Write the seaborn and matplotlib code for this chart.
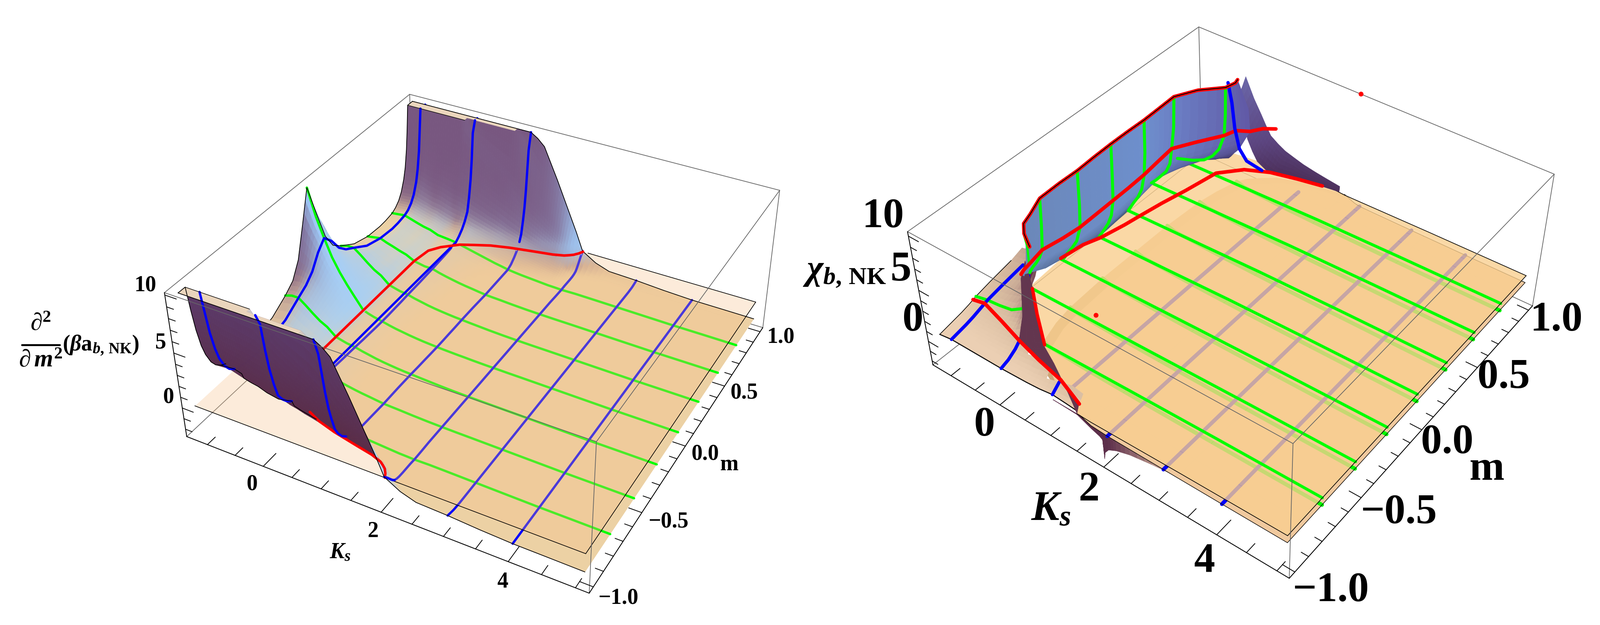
import numpy as np
import matplotlib
matplotlib.use("Agg")
import matplotlib.pyplot as plt
import seaborn as sns

W, H = 4021, 1571
sns.set_theme(style="white")
plt.rcParams['font.family'] = ['Liberation Serif', 'DejaVu Serif']
plt.rcParams['font.weight'] = 'bold'
plt.rcParams['mathtext.fontset'] = 'custom'
plt.rcParams['mathtext.rm'] = 'Liberation Serif:bold'
plt.rcParams['mathtext.it'] = 'Liberation Serif:italic:bold'
plt.rcParams['mathtext.bf'] = 'Liberation Serif:bold'
BLUE, GREEN, RED = sns.color_palette(['#0000ff', '#00ff00', '#ff0000'])
GRAY = '#666666'

# ---------------------------------------------------------------- left data
ks_left = np.array([-1.25,-1.125,-1,-.875,-.75,-.625,-.5,-.35,-.25,-.15,0,.125,.25,.375,.5,.625,.75,.875,1,
                    1.125,1.25,1.375,1.5,1.625,1.75,1.875,2,2.25,2.5,3,3.5,4,4.5,5.07])
m_left_pos = np.array([0,.06,.12,.18,.25,.37,.5,.62,.68,.75,.785,.82,.85,.88,.9,.92,.935,.95,.975,1.0])
z_left_pos = np.array([
 [10,7.2,4.5,3.1,2.4,1.5,1.05,.95,1.0,1.15,1.4,1.8,2.4,3.4,4.4,6,7.8,10,10,10],
 [7.6,6.2,4.2,3.2,2.6,1.6,1.15,1.02,1.07,1.22,1.45,1.85,2.45,3.45,4.5,6.1,8,10,10,10],
 [5.8,5.0,3.8,3.1,2.6,1.7,1.25,1.1,1.15,1.3,1.5,1.9,2.5,3.5,4.6,6.2,8.1,10,10,10],
 [4.2,3.8,3.1,2.6,2.1,1.35,1.0,.9,.95,1.1,1.3,1.7,2.3,3.25,4.4,6,8,10,10,10],
 [3.0,2.8,2.35,2.0,1.55,1.0,.8,.7,.75,.9,1.12,1.5,2.1,3.0,4.2,5.8,7.8,10,10,10],
 [2.0,1.9,1.6,1.35,1.05,.72,.58,.52,.56,.72,.95,1.32,1.9,2.88,4.1,5.7,7.7,10,10,10],
 [1.1,1.05,.9,.8,.7,.5,.4,.4,.45,.6,.85,1.2,1.8,2.8,4,5.6,7.6,10,10,10],
 [.05,.05,.03,.03,.02,0,0,.05,.12,.3,.55,.9,1.55,2.5,3.7,5.5,7.4,10,10,10],
 [-.15,-.15,-.15,-.13,-.12,-.12,-.1,-.05,.05,.25,.48,.8,1.4,2.4,3.6,5.4,7.3,10,10,10],
 [-.3,-.3,-.3,-.28,-.25,-.25,-.2,-.15,-.02,.2,.42,.7,1.3,2.3,3.5,5.3,7.2,10,10,10],
 [-.46,-.45,-.42,-.4,-.35,-.3,-.21,-.1,-.03,.1,.4,.8,1.3,2.0,3.2,4.8,6.6,9,10,10],
 [-.62,-.6,-.58,-.55,-.52,-.47,-.4,-.3,-.2,-.05,.25,.6,1.05,1.8,2.9,4.5,6.2,8.5,10,10],
 [-.75,-.73,-.7,-.68,-.65,-.6,-.55,-.45,-.35,-.2,.1,.4,.9,1.6,2.7,4.2,5.8,8,10,10],
 [-.85,-.84,-.82,-.8,-.78,-.74,-.68,-.6,-.5,-.35,-.05,.25,.7,1.4,2.4,3.9,5.4,7.5,10,10],
 [-.95,-.94,-.92,-.9,-.88,-.85,-.8,-.72,-.63,-.5,-.2,.1,.55,1.2,2.2,3.6,5.1,7,10,10],
 [-1.03,-1.02,-1,-.98,-.96,-.93,-.9,-.83,-.75,-.65,-.38,-.05,.38,1.0,1.9,3.3,4.8,6.5,10,10],
 [-1.1,-1.09,-1.07,-1.05,-1.03,-1,-.98,-.92,-.86,-.8,-.55,-.2,.2,.8,1.6,3,4.4,6,10,10],
 [-1.15,-1.14,-1.12,-1.11,-1.09,-1.07,-1.07,-1.02,-.97,-.92,-.7,-.35,.03,.65,1.35,2.65,3.9,5.5,9.5,10],
 [-1.2,-1.19,-1.17,-1.16,-1.13,-1.12,-1.15,-1.1,-1.08,-1.05,-.85,-.5,-.12,.5,1.1,2.3,3.4,5,8.5,10],
 [-1.24,-1.23,-1.21,-1.2,-1.18,-1.17,-1.19,-1.15,-1.14,-1.13,-.97,-.65,-.28,.3,.9,1.95,3,4.4,7.4,9.6],
 [-1.27,-1.26,-1.25,-1.24,-1.22,-1.22,-1.22,-1.2,-1.2,-1.2,-1.05,-.8,-.45,.1,.7,1.6,2.6,3.8,6.5,9],
 [-1.3,-1.29,-1.28,-1.28,-1.26,-1.26,-1.26,-1.25,-1.25,-1.25,-1.13,-.92,-.6,-.1,.45,1.25,2.1,3.2,5.5,7.6],
 [-1.32,-1.31,-1.3,-1.3,-1.3,-1.3,-1.3,-1.3,-1.3,-1.3,-1.2,-1.05,-.75,-.3,.2,.9,1.7,2.6,4.5,6.2],
 [-1.35,-1.34,-1.33,-1.33,-1.33,-1.33,-1.33,-1.33,-1.33,-1.35,-1.27,-1.15,-.92,-.5,-.05,.55,1.2,1.95,3.4,4.7],
 [-1.37,-1.36,-1.36,-1.36,-1.36,-1.36,-1.36,-1.36,-1.37,-1.4,-1.33,-1.25,-1.05,-.7,-.3,.2,.75,1.3,2.3,3.2],
 [-1.39,-1.38,-1.38,-1.38,-1.38,-1.38,-1.38,-1.38,-1.4,-1.42,-1.38,-1.36,-1.3,-1.15,-.95,-.55,-.15,.3,1.0,1.7],
 [-1.4,-1.4,-1.4,-1.4,-1.4,-1.4,-1.4,-1.4,-1.43,-1.45,-1.42,-1.42,-1.42,-1.4,-1.35,-1.25,-1.05,-.8,-.35,.05],
 [-1.43,-1.43,-1.43,-1.43,-1.43,-1.43,-1.43,-1.43,-1.43,-1.43,-1.43,-1.43,-1.43,-1.42,-1.4,-1.37,-1.32,-1.25,-1.05,-.75],
 [-1.45,-1.45,-1.45,-1.45,-1.45,-1.45,-1.45,-1.45,-1.45,-1.45,-1.45,-1.45,-1.45,-1.45,-1.45,-1.43,-1.42,-1.4,-1.35,-1.2],
 [-1.5,-1.5,-1.5,-1.5,-1.5,-1.5,-1.5,-1.5,-1.5,-1.5,-1.5,-1.5,-1.5,-1.5,-1.5,-1.48,-1.47,-1.45,-1.38,-1.3],
 [-1.55,-1.55,-1.55,-1.55,-1.55,-1.55,-1.55,-1.55,-1.55,-1.55,-1.55,-1.55,-1.55,-1.55,-1.55,-1.55,-1.55,-1.53,-1.5,-1.48],
 [-1.6,-1.6,-1.6,-1.6,-1.6,-1.6,-1.6,-1.6,-1.6,-1.6,-1.6,-1.6,-1.6,-1.6,-1.6,-1.6,-1.6,-1.6,-1.6,-1.6],
 [-1.62,-1.62,-1.62,-1.62,-1.62,-1.62,-1.62,-1.62,-1.62,-1.62,-1.62,-1.62,-1.62,-1.62,-1.62,-1.62,-1.62,-1.62,-1.62,-1.62],
 [-1.65,-1.65,-1.65,-1.65,-1.65,-1.65,-1.65,-1.65,-1.65,-1.65,-1.65,-1.65,-1.65,-1.65,-1.65,-1.65,-1.65,-1.65,-1.65,-1.65]])
blue_ks_left = [-1,0,1,2,3,4]
green_m = [-.75,-.5,-.25,0,.25,.5,.75]
red_m_left = [-.62,-.5,-.37,-.25,-.12,0,.12,.25,.37,.5,.62,.68,.75,.785,.82,.85,.88,.9,.92,.935,.95,.975,1]
red_ks_left = [-.3,-.35,-.35,-.35,-.35,-.35,-.35,-.35,-.35,-.35,-.3,-.17,.08,.31,.55,.87,1.3,1.6,1.78,1.85,1.91,1.97,2.01]
red_front_m = [-.785,-.82,-.85,-.88,-.9,-.92,-.935,-.95,-.975,-1]
red_front_ks = [.31,.55,.87,1.3,1.6,1.78,1.85,1.91,1.97,2.01]
blue_wall_ks = [-1,0,1,2]
plane_z_left = 0.0

# --------------------------------------------------------------- right data
u_m = np.array([-1,-.95,-.9,-.85,-.8,-.75,-.62,-.5,-.25,0,.25,.5,.62,.75,.8,.85,.9,.95,1])
u_ks = np.array([
 [1.5,.95,.6,.35,.2,.1,-.02,-.08,-.12,-.12,-.12,-.08,-.02,.08,.18,.35,.55,.95,1.7],
 [1.6,1.1,.75,.5,.35,.25,.12,.07,.03,.03,.03,.07,.12,.23,.33,.5,.7,1.1,1.8],
 [1.7,1.25,1,1,1,1,1,1,1,1,1,1,1,1,1,1,1,1.25,1.9],
 [2]*19,[3]*19,[4]*19,[5.07]*19])
u_z_rows = np.array([.72,.5,.3,.2,.15,.12,.1])
p_m = np.array([-1,-.9,-.75,-.5,-.25,0,.25,.5,.75,.85,.93,.97,1])
p_ks = np.array([
 [1.45,.94,.07,-.92,-.99,-.88,-.94,-1.1,-1.18,-1.0,-.55,.3,1.3],
 [1.7]*13,[3.3]*13,[5.07]*13])
p_z = np.array([
 [.7,.6,.5,.5,.42,.3,.28,.28,.25,.5,.7,.75,.8],
 [.65]*13,[.75]*13,[.8]*13])
wall_m = np.array([-.72,-.7,-.66,-.6,-.5,-.37,-.25,-.12,0,.12,.25,.37,.5,.62,.75,.82,.88])
wall_ks = np.array([
 [-.1,-.1,-.1,-.1,-.08,-.05,-.02,-.05],
 [-.24,-.24,-.23,-.22,-.21,-.2,-.18,-.2],
 [-.45,-.43,-.41,-.38,-.35,-.33,-.31,-.32],
 [-.7,-.68,-.63,-.57,-.48,-.42,-.38,-.37],
 [-.87,-.84,-.78,-.7,-.62,-.54,-.5,-.47],
 [-.95,-.9,-.84,-.74,-.63,-.52,-.48,-.46],
 [-.98,-.9,-.83,-.72,-.6,-.5,-.47,-.45],
 [-.93,-.86,-.79,-.69,-.59,-.51,-.49,-.47],
 [-.88,-.82,-.75,-.66,-.58,-.52,-.5,-.48],
 [-.91,-.85,-.78,-.68,-.6,-.53,-.5,-.48],
 [-.94,-.88,-.81,-.71,-.62,-.55,-.51,-.49],
 [-1.02,-.94,-.85,-.74,-.65,-.59,-.54,-.51],
 [-1.10,-1.0,-.9,-.77,-.68,-.63,-.57,-.54],
 [-1.15,-.95,-.78,-.62,-.5,-.42,-.38,-.36],
 [-1.18,-.85,-.6,-.42,-.28,-.17,-.14,-.13],
 [-.75,-.55,-.4,-.27,-.15,-.1,-.08,-.1],
 [-.4,-.35,-.28,-.18,-.08,.05,.02,-.2]])
wall_z = np.array([
 [7.1,7.3,7.5,7.7,7.9,8.2,8.6,9.0],
 [6.3,6.6,6.9,7.3,7.7,8.3,9,9.6],
 [4.6,4.9,5.2,5.7,6.3,7.2,8.4,9.8],
 [3.4,3.7,4.1,4.6,5.3,6.5,8,9.9],
 [2.07,2.4,2.9,3.5,4.2,5.15,7.5,10.1],
 [.9,1.3,1.9,2.7,3.6,4.9,7,10.2],
 [.42,.8,1.4,2.2,3.2,4.8,7,10.2],
 [.35,.8,1.4,2.2,3.2,4.8,7,10.2],
 [.3,.8,1.4,2.2,3.2,4.8,7,10.2],
 [.3,.8,1.4,2.2,3.2,4.8,7,10.2],
 [.28,.8,1.4,2.2,3.2,4.8,7,10.1],
 [.28,.8,1.4,2.2,3.2,4.8,7,10.05],
 [.28,.8,1.4,2.2,3.2,4.8,7,9.96],
 [.27,.8,1.4,2.2,3.2,4.8,7,9.9],
 [.25,.8,1.4,2.2,3.2,4.8,6.9,9.5],
 [.5,.9,1.5,2.2,3.2,4.8,6.9,9.4],
 [.8,1.1,1.6,2.2,3.2,4.5,6.6,9.0]])
wall_green_rows = [4,6,8,10,12,14]
wall_mid_col = 5
wedge_ks = np.array([-.2,-.1,0,.1,.2,.35,.5,.7,.87,1.1,1.3,1.6])
wedge_m = np.array([[.88,.92,.95],[.88,.93,.98],[.88,.94,1],[.88,.94,1],[.88,.94,1],[.89,.95,1],[.91,.95,1],
                    [.93,.97,1],[.95,.975,1],[.97,.985,1],[.98,.99,1],[.995,.998,1]])
wedge_z = np.array([[7.2,8,8.7],[5.3,6,6.5],[3.6,4.2,5.0],[2.6,3.3,4.1],[1.8,2.6,3.3],[1.2,2.1,2.8],[.8,1.6,2.4],
                    [.8,1.4,2.1],[.8,1.2,1.86],[.8,1.1,1.65],[.8,1.1,1.5],[.8,1.0,1.3]])
s_m = np.array([-1,-.95,-.9,-.85,-.8,-.75,-.65,-.5,-.42])
s_ks = np.array([-1.25,-1,-.75,-.5,-.25,0,.25,.5,.75,1,1.25,1.45])
s_z = np.array([
 [.6,.75,.9,1.05,1.25,1.5,1.85,2.3,2.7],
 [.8,.95,1.1,1.3,1.55,1.8,2.1,2.5,3.0],
 [.8,.95,1.15,1.4,1.65,1.95,2.4,3.3,5],
 [.8,1,1.2,1.5,1.8,2.2,3,6,9],
 [.8,1,1.3,1.7,2.2,3,5,10,10],
 [.8,1.05,1.5,2.2,3.9,8,10,10,10],
 [.85,1.1,1.7,2.8,7,10,10,10,10],
 [.9,1.2,2,4,10,10,10,10,10],
 [1,1.4,2.6,7,10,10,10,10,10],
 [1.2,1.8,4,10,10,10,10,10,10],
 [1.1,2.2,6,10,10,10,10,10,10],
 [1,2,5,10,10,10,10,10,10]])
band_ks = np.array([[0,-.25],[0,-.2],[0,.07],[.5,.5],[1,.94],[1.35,1.25],[1.45,1.45]])
band_m = np.array([[-.81,-.7],[-.83,-.68],[-.87,-.75],[-.91,-.82],[-.94,-.9],[-.97,-.96],[-.985,-1]])
band_z = np.array([[7.2,7],[3.9,3.5],[2,.5],[2,.55],[1.9,.6],[1.7,.65],[1.3,.7]])
strip_ks = np.array([1,1.45,1.7,1.85,1.9,1.91,1.93,2,2.15,2.4,2.8,3.2])
strip_top = np.array([.7,.7,.55,.45,.4,.4,.4,.35,.3,.3,.3,.3])
strip_low = np.array([.7,.6,0,-.3,-.5,-2.4,-1.7,-1.2,-.8,-.4,-.05,.2])
red_s_ks = [-1.25,-1,-.5,0,.5,1,1.3,1.45]
red_s_m = [-.77,-.77,-.82,-.87,-.91,-.94,-.97,-.98]
red_s_z = [1.4,1.7,1.9,2,2,1.9,1.7,1.4]
red_short_ks = [-.1,0,.25]
red_short_m = [-.72,-.74,-.79]
red_short_z = [5,3,1.3]
red_lo_ks = [-.985,-.94,-.85,-.75,-.7,-.62,-.5,-.35,.0,.4,.87,1.3]
red_lo_m = [-.25,-.1,0,.15,.25,.4,.55,.75,.85,.91,.95,.98]
red_lo_z = [.5,.4,.3,.3,.3,.3,.4,.6,.8,.85,.85,.85]
red_mid_start_ks = [-.72,-.72,-.64,-.54]
red_mid_start_m = [-.6,-.58,-.54,-.5]
red_mid_start_z = [3.4,3.6,4.3,5.15]
red_mid_ext_ks = [.05,.15,.3]
red_mid_ext_m = [.88,.95,1.0]
red_mid_ext_z = [4.5,4.35,4.2]
blue_w_ks = [-.2,-.15,-.12,-.05,.05,.25]
blue_w_m = [.8,.81,.82,.83,.85,.9]
blue_w_z = [9.4,7.5,5,3,1.8,.8]
green_pole_ks = [0,-.03,-.1]
green_pole_m = [-.75,-.74,-.73]
green_pole_z = [8,9.3,10]
red_dot_ks = [1.82,1.83]
red_dot_m = [1.04,-.95]
red_dot_z = [10.4,10.4]

# ------------------------------------------------------------- helpers
fig = plt.figure(figsize=(W/100, H/100), dpi=100)
SUB = 3

def camera(x0, S, corners, lims):
    y0 = (H - S) / 2
    ax = fig.add_axes([x0/W, (H-y0-S)/H, S/W, S/H], projection='3d')
    ax.set_axis_off()
    ax.patch.set_alpha(0)
    ax.computed_zorder = False
    rows = []
    for (u, v, w), (x, y) in corners:
        rows.append([u, v, w, 1, 0, 0, 0, 0, -x*u, -x*v, -x*w, -x])
        rows.append([0, 0, 0, 0, u, v, w, 1, -y*u, -y*v, -y*w, -y])
    P = np.linalg.svd(np.array(rows, float))[2][-1].reshape(3, 4)
    if P[2] @ np.array([.5, .5, .5, 1]) < 0:
        P = -P
    P = P / (P[2] @ np.array([.5, .5, .5, 1]))
    (xa, xb), (ya, yb), (za, zb) = lims
    N = np.array([[1/(xb-xa), 0, 0, -xa/(xb-xa)],
                  [0, 1/(yb-ya), 0, -ya/(yb-ya)],
                  [0, 0, 1/(zb-za), -za/(zb-za)],
                  [0, 0, 0, 1]])
    Pd = P @ N
    vx0, vx1 = ax.viewLim.intervalx
    vy0, vy1 = ax.viewLim.intervaly
    sx = (vx1-vx0)/S
    sy = (vy1-vy0)/S
    M = np.zeros((4, 4))
    M[0] = sx*Pd[0] + (vx0 - sx*x0)*Pd[2]
    M[1] = -sy*Pd[1] + (vy0 + sy*(y0+S))*Pd[2]
    M[2] = [0, 0, 0, -1]
    M[3] = Pd[2]
    ax.get_proj = lambda: M
    ax._M_fixed = M
    return ax

def corners(L, LT, F, FT, R, RT, BT):
    return [((0,0,0),L),((0,0,1),LT),((1,0,0),F),((1,0,1),FT),((1,1,0),R),((1,1,1),RT),((0,1,1),BT)]

def face_avg(A):
    return (A[:-1,:-1]+A[1:,:-1]+A[:-1,1:]+A[1:,1:])/4

def facets(A, n=SUB):
    """Split each quad of the mesh into n x n shading facets lying on the same bilinear patch."""
    def along(B):
        s = (B.shape[0]-1)*n+1
        t = np.linspace(0,B.shape[0]-1,s)
        i = np.minimum(t.astype(int),B.shape[0]-2)
        f = (t-i)[:,None]
        return B[i]*(1-f)+B[i+1]*f
    return along(along(A).T).T

def rep(A, n=SUB):
    return np.repeat(np.repeat(A,n,axis=0),n,axis=1)

def lit_colors(ax, X, Y, Z, lims):
    (xa,xb),(ya,yb),(za,zb) = lims
    x,y,z = (X-xa)/(xb-xa), (Y-ya)/(yb-ya), .55*(Z-za)/(zb-za)
    P3 = np.stack([x,y,z],-1)
    gi = np.gradient(P3,axis=0); gj = np.gradient(P3,axis=1)
    nv = np.cross(gi,gj)
    nv = nv/np.maximum(np.linalg.norm(nv,axis=-1,keepdims=True),1e-9)
    nv = nv*np.where(nv[...,2:3]<0,-1,1)
    n = np.stack([face_avg(facets(nv[...,k])) for k in range(3)],-1)
    n = n/np.maximum(np.linalg.norm(n,axis=-1,keepdims=True),1e-9)
    M = ax._M_fixed
    h = np.stack([X,Y,Z,np.ones_like(X)],-1)@M.T
    px,py = h[...,0]/h[...,3], h[...,1]/h[...,3]
    a1 = np.stack([px[1:,1:]-px[:-1,:-1], py[1:,1:]-py[:-1,:-1]],-1)
    a2 = np.stack([px[1:,:-1]-px[:-1,1:], py[1:,:-1]-py[:-1,1:]],-1)
    cr = a2[...,0]*a1[...,1]-a2[...,1]*a1[...,0]
    q = np.array([[xa,ya,0,1],[xb,yb,0,1],[xb,ya,0,1],[xa,yb,0,1]])@M.T
    q = q[:,:2]/q[:,3:]
    ref = np.cross(q[2]-q[3], q[1]-q[0])
    under = rep(cr*ref < 0)
    zf = face_avg(facets(Z))
    flat = np.array([.927,.82,.644]); bl = np.array([.62,.81,1.0]); pu = np.array([.47,.34,.50]); fr = np.array([.85,.78,.72])
    wz = n[...,2]**2*np.clip(1-(zf-5)/3,.02,1)
    wk = 1.6*np.maximum(n[...,0],0)**1.3*np.clip((zf+.9)/1.4,0,1)
    wm = 3.0*np.maximum(-n[...,1],0)**1.5*np.clip(zf/8.5,.1,1)
    wf = .6*np.maximum(n[...,1],0)*np.clip((zf+.9)/1.4,0,1)
    t = wz+wk+wm+wf
    c = (wz[...,None]*flat+wk[...,None]*bl+wm[...,None]*pu+wf[...,None]*fr)/t[...,None]
    zn = np.clip(zf/10,0,1)[...,None]
    dark = (1-zn)*np.array([.35,.17,.27])+zn*np.array([.36,.23,.42])
    c = np.where(under[...,None],dark,c)
    cap = rep((Z[:-1,:-1]>=10)&(Z[1:,:-1]>=10)&(Z[:-1,1:]>=10)&(Z[1:,1:]>=10))
    c = np.where(cap[...,None],np.array([.92,.84,.74]),c)
    return np.concatenate([c,np.ones_like(c[...,:1])],-1), under&~cap, py

def surf(ax, X, Y, Z, rgba, mask, zo):
    a = rgba.copy()
    a[...,3] = np.where(mask,1.0,0.0)
    ax.plot_surface(X,Y,Z,facecolors=a,rstride=1,cstride=1,shade=False,linewidth=.6,zorder=zo,antialiased=True)

def surf_v(ax, X, Y, Z, rgb_fn, zo, mask=None):
    Xf,Yf,Zf = facets(X),facets(Y),facets(Z)
    a = np.ones((Xf.shape[0]-1,Xf.shape[1]-1,4))
    a[...,:3] = rgb_fn(face_avg(Xf),face_avg(Yf),face_avg(Zf))
    m = np.ones(a.shape[:2],bool) if mask is None else rep(mask)
    surf(ax,Xf,Yf,Zf,a,m,zo)

def line(ax, x, y, z, c, lw, zo, **kw):
    ax.plot(np.asarray(x,float),np.asarray(y,float),np.asarray(z,float),color=c,lw=lw,zorder=zo,solid_capstyle='round',**kw)

def box(ax, lims, zo_back, zo_front):
    (xa,xb),(ya,yb),(za,zb) = lims
    for p,q in [((xa,yb,zb),(xa,ya,zb)),((xa,yb,zb),(xb,yb,zb)),((xb,yb,zb),(xb,yb,za)),
                ((xa,ya,za),(xa,yb,za)),((xa,yb,za),(xb,yb,za)),((xa,yb,za),(xa,yb,zb))]:
        line(ax,[p[0],q[0]],[p[1],q[1]],[p[2],q[2]],GRAY,1.3,zo_back)
    for p,q in [((xa,ya,zb),(xb,ya,zb)),((xb,ya,zb),(xb,yb,zb)),((xb,ya,zb),(xb,ya,za))]:
        line(ax,[p[0],q[0]],[p[1],q[1]],[p[2],q[2]],GRAY,1.3,zo_front)
    for p,q in [((xa,ya,za),(xb,ya,za)),((xb,ya,za),(xb,yb,za)),((xa,ya,za),(xa,ya,zb))]:
        line(ax,[p[0],q[0]],[p[1],q[1]],[p[2],q[2]],'black',1.5,zo_front)
    for k in np.arange(-1,5.01,.5):
        L = .1 if k%2==0 else .06
        line(ax,[k,k],[ya,ya+L],[za,za],'black',1.4,zo_front)
    for m in np.arange(-1,1.01,.1):
        L = .2 if abs(m*2-round(m*2))<1e-6 else .12
        line(ax,[xb,xb-L],[m,m],[za,za],'black',1.4,zo_front)
    for z in np.arange(np.ceil(za),zb,1):
        L = .2 if z%5==0 else .12
        line(ax,[xa,xa+L],[ya,ya],[z,z],'black',1.4,zo_front)

def T(x,y,s,size,**kw):
    fig.text(x/W,1-y/H,s,fontsize=size,ha='center',va='center',color='black',fontweight='bold',**kw)

LW_L = 4.2
# ------------------------------------------------------------- left panel
LIMS_L = ((-1.38,5.2),(-1.04,1.04),(-2.7,10.2))
axL = camera(0,2011,corners((470,1098),(413,735),(1480,1492),(1499,1109),(1917,822),(1960,480),(1029,237)),LIMS_L)
box(axL,LIMS_L,1,60)
m_full = np.r_[-m_left_pos[:0:-1],m_left_pos]
Z_L = np.hstack([z_left_pos[:,:0:-1],z_left_pos])
Y_L,X_L = np.meshgrid(m_full,ks_left)
col_L,under_L,py_L = lit_colors(axL,X_L,Y_L,Z_L,LIMS_L)
Xf,Yf,Zf = facets(X_L),facets(Y_L),facets(Z_L)
zf = face_avg(Zf); mf = face_avg(Yf)
below = zf<plane_z_left
wallf = (~below)&((mf<-.75)|(under_L&(mf<0)))
surf(axL,Xf,Yf,Zf,col_L,below,5)
mi = {round(float(v),3):i for i,v in enumerate(m_full)}
ki = {round(float(v),3):i for i,v in enumerate(ks_left)}
cm = len(m_left_pos)-1
fold_col = np.argmin(py_L[:,:cm],axis=1)
def span(i):
    hi = cm
    while hi<len(m_full)-1 and Z_L[i,hi]<10: hi += 1
    lo = cm
    while lo>0 and Z_L[i,lo]<10: lo -= 1
    return lo,hi
for m in green_m:
    line(axL,ks_left,np.full(len(ks_left),m),Z_L[:,mi[round(m,3)]],GREEN,LW_L,6)
for k in blue_ks_left:
    i = ki[round(float(k),3)]
    line(axL,np.full(len(m_full),k),m_full,Z_L[i],BLUE,LW_L,7)
axL.plot_surface(*np.meshgrid([ks_left[0],ks_left[-1]],[m_full[0],m_full[-1]]),np.full((2,2),plane_z_left),
                 color=(.97,.75,.53),alpha=.3,shade=False,linewidth=0,zorder=10)
for p,q in [((ks_left[0],-1),(ks_left[-1],-1)),((ks_left[-1],-1),(ks_left[-1],1)),((2.1,1),(ks_left[-1],1))]:
    line(axL,[p[0],q[0]],[p[1],q[1]],[plane_z_left]*2,'black',1.2,11)
back = (~below)&(~wallf)
surf(axL,Xf,Yf,Zf,col_L,back,12)
for m in green_m:
    j = mi[round(m,3)]
    s = Z_L[:,j]>=-.02
    line(axL,ks_left[s],np.full(s.sum(),m),Z_L[s,j],GREEN,LW_L,13)
for k in blue_ks_left:
    i = ki[round(float(k),3)]
    lo,hi = span(i)
    idx = [q for q in range(lo,hi+1) if Z_L[i,q]>=-.02 and m_full[q]>=-.75]
    if len(idx)>1:
        line(axL,np.full(len(idx),k),m_full[idx],Z_L[i,idx],BLUE,LW_L,14)
s = m_full>=-.75
line(axL,np.full(s.sum(),ks_left[0]),m_full[s],Z_L[0,s],'black',1.3,15)
line(axL,ks_left,np.full(len(ks_left),1.),Z_L[:,-1],'black',1.3,15)
jb = mi[.95]
s = Z_L[:,jb]>=10
line(axL,ks_left[s],np.full(s.sum(),.95),Z_L[s,jb],'black',1.0,15)
line(axL,red_ks_left,red_m_left,np.zeros(len(red_m_left)),RED,4.6,16)
surf(axL,Xf,Yf,Zf,col_L,wallf,20)
line(axL,red_front_ks,red_front_m,np.zeros(len(red_front_m)),RED,4.6,21)
for k in blue_wall_ks:
    i = ki[round(float(k),3)]
    lo,hi = span(i)
    idx = list(range(lo,fold_col[i]+1))
    line(axL,np.full(len(idx),k),m_full[idx],Z_L[i,idx],BLUE,LW_L,22)
rows = np.where(Z_L[np.arange(len(ks_left)),fold_col]>=0)[0]
line(axL,ks_left[rows],m_full[fold_col[rows]],Z_L[rows,fold_col[rows]],'black',1.2,23)
s = m_full<=-.75
line(axL,np.full(s.sum(),ks_left[0]),m_full[s],Z_L[0,s],'black',1.3,23)
jf = mi[-.95]
s = Z_L[:,jf]>=10
line(axL,ks_left[s],np.full(s.sum(),-.95),Z_L[s,jf],'black',1.0,23)
line(axL,ks_left,np.full(len(ks_left),-1.),Z_L[:,0],'black',1.3,23)

# ------------------------------------------------------------ right panel
LIMS_R = ((-1.38,5.2),(-1.04,1.04),(-2.4,10.4))
axR = camera(2010,2011,corners((2344,917),(2281,582),(3240,1452),(3250,1117),(3852,770),(3905,436),(3013,68)),LIMS_R)
box(axR,LIMS_R,1,60)

def solid(X,c):
    a = np.ones((X.shape[0]-1,X.shape[1]-1,4))
    a[...,:3] = c
    return a

def strip_rgb(x,y,z):
    t = np.clip((x-2.0)/1.2,0,1)[...,None]
    return (1-t)*np.array([.36,.18,.29])+t*np.array([.85,.72,.62])
Xs = np.vstack([strip_ks,strip_ks]); Ys = np.full(Xs.shape,-1.0); Zs = np.vstack([strip_top,strip_low])
surf_v(axR,Xs,Ys,Zs,strip_rgb,3)
Yu = np.tile(u_m,(len(u_ks),1)); Zu = np.tile(u_z_rows[:,None],(1,len(u_m)))
c = solid(u_ks,(.94,.79,.62))
rim = np.interp(face_avg(Yu)[0],[-1,-.5,-.1],[.55,.55,.0])[:,None]
c[0,:,:3] = rim*np.array([.70,.55,.36])+(1-rim)*np.array([.92,.77,.6])
surf(axR,u_ks,Yu,Zu,c,np.ones(c.shape[:2],bool),5)
for j,m in enumerate(u_m):
    if round(float(m),2) in green_m:
        line(axR,u_ks[:,j],Yu[:,j],Zu[:,j],GREEN,7,6)
for r,k in zip([2,3,4,5],[1,2,3,4]):
    s = u_ks[r]==k
    line(axR,u_ks[r,s],Yu[r,s],Zu[r,s],BLUE,7,7)
line(axR,u_ks[:,-1],Yu[:,-1],Zu[:,-1],'black',1.0,7)
line(axR,u_ks[-1],Yu[-1],Zu[-1],'black',1.0,7)
line(axR,u_ks[:,0],Yu[:,0],Zu[:,0],'black',1.0,7)
Yp = np.tile(p_m,(len(p_ks),1))
a = solid(p_ks,(.975,.81,.56)); a[...,3] = .8
axR.plot_surface(p_ks,Yp,p_z,facecolors=a,rstride=1,cstride=1,shade=False,linewidth=0,zorder=10)
for j,m in enumerate(p_m):
    if round(float(m),2) in green_m:
        line(axR,p_ks[:,j],Yp[:,j],p_z[:,j],GREEN,5.4,11)
line(axR,p_ks[-1],Yp[-1],p_z[-1],'black',1.2,11)
line(axR,p_ks[:,0],Yp[:,0],p_z[:,0],'black',1.2,11)
line(axR,p_ks[:,-1],Yp[:,-1],p_z[:,-1],'black',1.2,11)
# left sheet
Ys2,Xs2 = np.meshgrid(s_m,s_ks)
def sheet_rgb(x,y,z):
    c = np.ones(z.shape+(3,))
    for i,(p,q) in enumerate(zip([.92,.81,.70],[.35,.15,.25])):
        c[...,i] = np.interp(z,[1,2,4,7],[p,p-.07,(p+q)/2,q])
    return c
zfs = face_avg(s_z)
keep = np.where(face_avg(Xs2)>=.1,zfs<2.2,zfs<8.5)
surf_v(axR,Xs2,Ys2,s_z,sheet_rgb,15,keep)
line(axR,Xs2[:,0],Ys2[:,0],s_z[:,0],'black',1.8,16)
line(axR,Xs2[0,:8],Ys2[0,:8],s_z[0,:8],'black',1.2,16)
line(axR,Xs2[:6,5],Ys2[:6,5],s_z[:6,5],GREEN,5.4,17)
line(axR,Xs2[1,:8],Ys2[1,:8],s_z[1,:8],BLUE,6,18)
line(axR,Xs2[5,:6],Ys2[5,:6],s_z[5,:6],BLUE,6,18)
line(axR,Xs2[9,:2],Ys2[9,:2],s_z[9,:2],BLUE,6,18)
line(axR,red_s_ks,red_s_m,red_s_z,RED,6.5,19)
surf_v(axR,band_ks,band_m,band_z,lambda x,y,z:np.full(z.shape+(3,),(.39,.21,.31)),20)
line(axR,red_s_ks,red_s_m,red_s_z,RED,6.5,21)
# wedge
def wedge_rgb(x,y,z):
    return np.stack([np.interp(z,[1,3,9],[.3,.36,.42]),np.interp(z,[1,3,9],[.19,.27,.41]),np.interp(z,[1,3,9],[.36,.5,.67])],-1)
Xw = np.tile(wedge_ks[:,None],(1,3))
surf_v(axR,Xw,wedge_m,wedge_z,wedge_rgb,25)
# wall
Yw = np.tile(wall_m[:,None],(1,wall_ks.shape[1]))
def wall_rgb(x,y,z):
    c = np.stack([np.interp(y,[-.7,.25,.5,.88],[.42,.43,.42,.38]),
                  np.interp(y,[-.7,.25,.5,.88],[.53,.56,.5,.35]),
                  np.interp(y,[-.7,.25,.5,.88],[.72,.8,.77,.65])],-1)
    dk = np.interp(z+np.maximum(-y,-.25),[.3,1.5,3.5],[.62,.85,1])
    return c*dk[...,None]
surf_v(axR,wall_ks,Yw,wall_z,wall_rgb,30)
for i in wall_green_rows:
    line(axR,wall_ks[i],Yw[i],wall_z[i],GREEN,5.4,31)
line(axR,green_pole_ks,green_pole_m,green_pole_z,GREEN,4,31)
line(axR,wall_ks[4:,wall_mid_col],Yw[4:,wall_mid_col],wall_z[4:,wall_mid_col],RED,6.5,32)
line(axR,red_mid_start_ks,red_mid_start_m,red_mid_start_z,RED,6.5,32)
line(axR,red_mid_ext_ks,red_mid_ext_m,red_mid_ext_z,RED,6.5,32)
line(axR,red_lo_ks,red_lo_m,red_lo_z,RED,6.5,32)
line(axR,red_short_ks,red_short_m,red_short_z,RED,6,32)
line(axR,blue_w_ks,blue_w_m,blue_w_z,BLUE,6,33)
line(axR,wall_ks[:,-1],Yw[:,-1],wall_z[:,-1],RED,6.5,34)
line(axR,wall_ks[:,-1],Yw[:,-1],wall_z[:,-1],'black',1.6,35)
axR.scatter(red_dot_ks,red_dot_m,red_dot_z,color=[RED],s=60,zorder=70,depthshade=False)

# ---------------------------------------------------------------- texts
for s,x,y in [('10',365,717),('5',403,862),('0',424,999),('0',634,1218),('2',937,1336),('4',1263,1463),
              ('\u22121.0',1554,1504),('\u22120.5',1680,1312),('0.0',1773,1142),('0.5',1871,987),('1.0',1962,847),('m',1833,1168)]:
    T(x,y,s,40)
T(855,1389,r'$K_s$',40)
T(102,815,r'$\partial^2$',44)
T(102,907,r'$\partial\, m^2$',44)
fig.add_artist(plt.Line2D([55/W,150/W],[1-867/H]*2,color='black',lw=3.5))
T(253,868,r'$(\beta\mathrm{a}_{b,\,\mathrm{NK}})$',40)
for s,x,y in [('10',2219,545),('5',2264,680),('0',2294,805),('0',2474,1070),('2',2737,1232),('4',3027,1412),
              ('\u22121.0',3344,1485),('\u22120.5',3515,1290),('0.0',3637,1113),('0.5',3779,950),('1.0',3912,805),('m',3736,1180)]:
    T(x,y,s,76)
T(2641,1282,r'$K_s$',76)
T(2122,685,r'$\chi_{b,\,\mathrm{NK}}$',64)
fig.savefig('out.png',dpi=100,facecolor='white')
